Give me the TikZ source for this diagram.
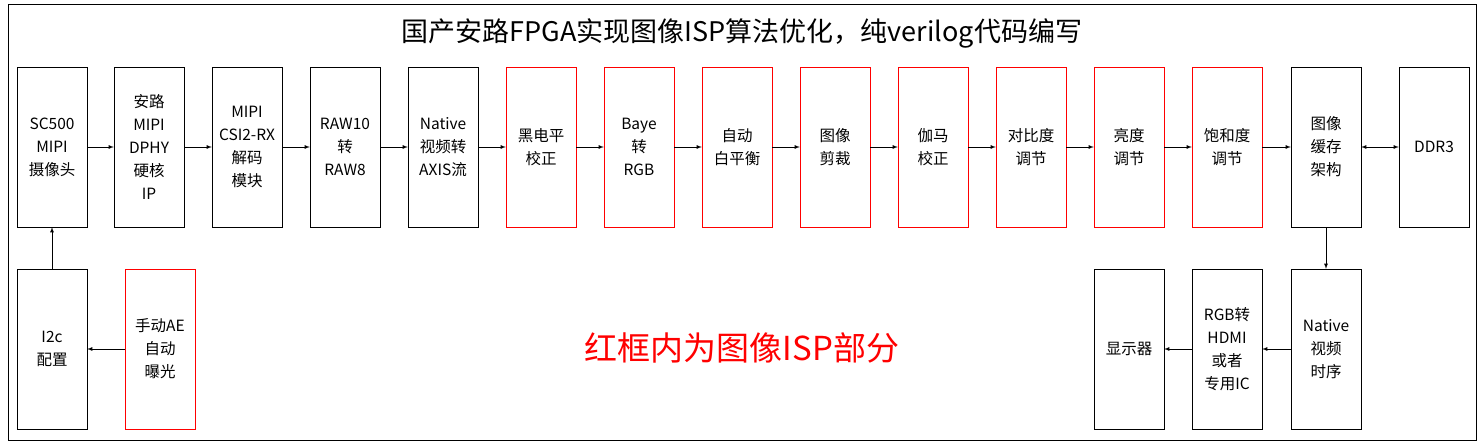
\documentclass[tikz,border=0pt]{standalone}
\usepackage{fontspec}
\setmainfont{Carlito}
\newfontfamily\cjk{Noto Sans CJK SC}
\usetikzlibrary{positioning}
\usetikzlibrary{calc}
\begin{document}
\begin{tikzpicture}[x=1pt,y=-1pt,
	blk node/.style={shape=rectangle,draw=black,minimum width=70pt,minimum height=160pt,inner sep=0,align=center,font=\fontsize{15.5}{23}\selectfont\cjk},
	isp node/.style={blk node,draw=red},
	arr/.style={-latex,thick},
	]
	\useasboundingbox (0,0) rectangle (1484,444);
	\draw (8,4) rectangle (1476,440);
	\node[font=\fontsize{27}{30}\selectfont\cjk] (title) at (742,33){国产安路FPGA实现图像ISP算法优化，纯verilog代码编写};
	%top row
	\node[blk node] (cam) at (52,147){SC500\\MIPI\\摄像头};
	\node[blk node] (phy) at (149,147){安路\\MIPI\\DPHY\\硬核\\IP};
	\node[blk node] (csi) at (247,147){MIPI\\CSI2-RX\\解码\\模块};
	\node[blk node] (raw) at (345,147){RAW10\\转\\RAW8};
	\node[blk node] (axis) at (443,147){Native\\视频转\\AXIS流};
	\node[isp node] (blc) at (541,147){黑电平\\校正};
	\node[isp node] (dem) at (639,147){Baye\\转\\RGB};
	\node[isp node] (awb) at (737,147){自动\\白平衡};
	\node[isp node] (crop) at (835,147){图像\\剪裁};
	\node[isp node] (gam) at (933,147){伽马\\校正};
	\node[isp node] (con) at (1031,147){对比度\\调节};
	\node[isp node] (bri) at (1129,147){亮度\\调节};
	\node[isp node] (sat) at (1227,147){饱和度\\调节};
	\node[blk node] (buf) at (1326,147){图像\\缓存\\架构};
	\node[blk node] (ddr) at (1434,147){DDR3};
	\foreach \a/\b in {cam/phy,phy/csi,csi/raw,raw/axis,axis/blc,blc/dem,dem/awb,awb/crop,crop/gam,gam/con,con/bri,bri/sat,sat/buf}
	{
		\draw[arr] (\a) -- (\b);
	}
	\draw[latex-latex,thick] (buf) -- (ddr);
	%bottom row
	\node[blk node] (iic) at (52,349){I2c\\配置};
	\node[isp node] (ae) at (160,349){手动AE\\自动\\曝光};
	\node[blk node] (disp) at (1129,349){显示器};
	\node[blk node] (hdmi) at (1227,349){RGB转\\HDMI\\或者\\专用IC};
	\node[blk node] (tim) at (1326,349){Native\\视频\\时序};
	\draw[arr] (ae) -- (iic);
	\draw[arr] (iic) -- (cam);
	\draw[arr] (buf) -- (tim);
	\draw[arr] (tim) -- (hdmi);
	\draw[arr] (hdmi) -- (disp);
	\node[text=red,font=\fontsize{33}{36}\selectfont\cjk] (note) at (742,348){红框内为图像ISP部分};
\end{tikzpicture}
\end{document}
